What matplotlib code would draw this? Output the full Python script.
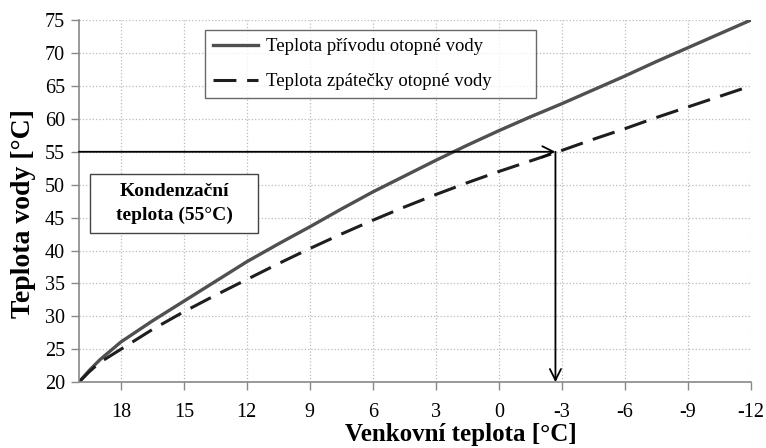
import numpy as np
import matplotlib
matplotlib.use("Agg")
import matplotlib.pyplot as plt
from matplotlib.patches import Rectangle

plt.rcParams['font.family'] = ['Liberation Serif', 'DejaVu Serif']
plt.rcParams['axes.unicode_minus'] = False

# venkovni teplota [°C]
t_out = [20, 19.5, 19, 18, 16.5, 15, 13.5, 12, 10.5, 9, 7.5, 6, 4.5, 3, 1.5, 0,
         -1.5, -3, -4.5, -6, -7.5, -9, -10.5, -12]
# teplota privodu / zpatecky [°C]
t_supply = [20, 21.8, 23.4, 26.1, 29.3, 32.3, 35.3, 38.3, 41.0, 43.6, 46.3, 48.9,
            51.3, 53.7, 56.0, 58.2, 60.3, 62.3, 64.4, 66.5, 68.7, 70.8, 72.9, 75]
t_return = [20, 21.6, 23.0, 25.0, 28.0, 30.7, 33.2, 35.6, 38.0, 40.3, 42.5, 44.6,
            46.6, 48.5, 50.3, 52.0, 53.6, 55.2, 56.9, 58.5, 60.2, 61.8, 63.4, 65]

x_ticks = [18, 15, 12, 9, 6, 3, 0, -3, -6, -9, -12]
y_ticks = [20, 25, 30, 35, 40, 45, 50, 55, 60, 65, 70, 75]

t_cond = 55      # kondenzacni teplota
t_cross = -2.7   # kde zpatecka protne 55 °C

# ramecek s popisem (x0, y0, sirka, vyska) v datovych souradnicich
box_x, box_y, box_w, box_h = 19.48, 42.6, -8.02, 9.0

fig = plt.figure(figsize=(7.66, 4.48), dpi=100)
ax = fig.add_axes([0.103, 0.147, 0.877, 0.808])

ax.plot(t_out, t_supply, color='#505050', lw=2.4, label='Teplota přívodu otopné vody')
ax.plot(t_out, t_return, color='#1e1e1e', lw=2.2, dashes=(7.5, 3.5),
        label='Teplota zpátečky otopné vody')

# sipky - kondenzacni teplota
ax.annotate('', xy=(t_cross, t_cond), xytext=(20, t_cond),
            arrowprops=dict(arrowstyle='->', color='black', lw=1.3,
                            shrinkA=0, shrinkB=0, mutation_scale=20))
ax.annotate('', xy=(t_cross, 20), xytext=(t_cross, t_cond),
            arrowprops=dict(arrowstyle='->', color='black', lw=1.3,
                            shrinkA=0, shrinkB=0, mutation_scale=20))

ax.add_patch(Rectangle((box_x, box_y), box_w, box_h, fc='white', ec='#444444',
                       lw=1.0, zorder=4))
ax.text(box_x + box_w / 2, box_y + box_h / 2, 'Kondenzační\nteplota (55°C)',
        ha='center', va='center', fontsize=14, fontweight='bold',
        linespacing=1.5, zorder=5)

ax.set_xlim(20, -12)
ax.set_ylim(20, 75)
ax.set_xticks(x_ticks)
ax.set_yticks(y_ticks)
ax.tick_params(labelsize=14.5, length=6, color='#888888', width=1, pad=4)
ax.tick_params(axis='x', pad=9)
ax.grid(True, color='#bbbbbb', linestyle=':', lw=0.9)
ax.set_axisbelow(True)
for s in ['top', 'right']:
    ax.spines[s].set_visible(False)
for s in ['left', 'bottom']:
    ax.spines[s].set_color('#888888')
    ax.spines[s].set_linewidth(1.2)

ax.set_xlabel('Venkovní teplota [°C]', fontsize=18, fontweight='bold')
ax.xaxis.set_label_coords(0.568, -0.112)
ax.set_ylabel('Teplota vody [°C]', fontsize=20, fontweight='bold')
ax.yaxis.set_label_coords(-0.064, 0.465)

leg = ax.legend(loc='upper left', bbox_to_anchor=(0.1875, 0.772, 0.4926, 0.2),
                mode='expand', fontsize=13.5,
                frameon=True, fancybox=False, edgecolor='#444444',
                handlelength=2.4, handletextpad=0.43, borderpad=0.41,
                labelspacing=0.96, borderaxespad=0)
leg.get_frame().set_linewidth(1.0)

fig.savefig('out.png', dpi=100)
